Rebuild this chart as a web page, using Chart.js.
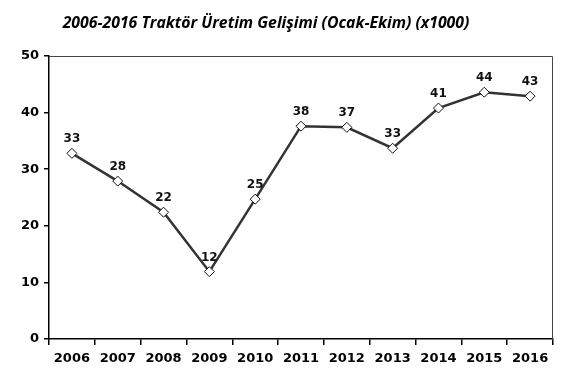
<!DOCTYPE html>
<html>
<head>
<meta charset="utf-8">
<script src="https://cdn.jsdelivr.net/npm/chart.js@4"></script>
<style>
  html, body { margin: 0; padding: 0; background: #fff; }
  #wrap { width: 569px; height: 382px; }
</style>
</head>
<body>
<div id="wrap"><canvas id="traktorChart" width="569" height="382"></canvas></div>
<script>
// Veri (x1000 adet)
const yillar = ["2006", "2007", "2008", "2009", "2010", "2011", "2012", "2013", "2014", "2015", "2016"];
const uretim = [32.8, 27.9, 22.4, 11.9, 24.7, 37.6, 37.4, 33.7, 40.8, 43.6, 42.9];
const etiketler = ["33", "28", "22", "12", "25", "38", "37", "33", "41", "44", "43"];
const yTicks = [0, 10, 20, 30, 40, 50];
const baslik = "2006-2016 Traktör Üretim Gelişimi (Ocak-Ekim) (x1000)";

const fontAna = "'DejaVu Sans', Verdana, sans-serif";

// Başlık, nokta üstü etiketler ve çerçeve
const etiketPlugin = {
	id: "etiketPlugin",
	afterDatasetsDraw(chart) {
		const ctx = chart.ctx;
		const area = chart.chartArea;
		ctx.save();
		// çerçeve (üst ve sağ)
		ctx.strokeStyle = "#444";
		ctx.lineWidth = 1;
		ctx.beginPath();
		ctx.moveTo(area.left, area.top + 0.5);
		ctx.lineTo(area.right - 0.5, area.top + 0.5);
		ctx.lineTo(area.right - 0.5, area.bottom);
		ctx.stroke();

		// başlık
		ctx.font = "italic bold 15.8px 'Open Sans', sans-serif";
		ctx.fillStyle = "#000";
		ctx.textAlign = "center";
		ctx.textBaseline = "alphabetic";
		ctx.fillText(baslik, 266, 28);

		const meta = chart.getDatasetMeta(0);
		ctx.font = "bold 12px " + fontAna;
		ctx.fillStyle = "#111";
		ctx.textBaseline = "middle";
		meta.data.forEach((pt, i) => {
			ctx.fillText(etiketler[i], pt.x, pt.y - 14);
		});
		ctx.restore();
	},
};

new Chart(document.getElementById("traktorChart"), {
	type: "line",
	data: {
		labels: yillar,
		datasets: [
			{
				data: uretim,
				borderColor: "#333",
				borderWidth: 2.5,
				pointStyle: "rectRot",
				pointRadius: 5,
				pointBackgroundColor: "#fff",
				pointBorderColor: "#111",
				pointBorderWidth: 1,
				tension: 0,
			},
		],
	},
	options: {
		responsive: false,
		animation: false,
		layout: { padding: { left: 0, right: 16, top: 56, bottom: 0 } },
		plugins: {
			legend: { display: false },
			tooltip: { enabled: false },
			title: { display: false },
		},
		scales: {
			x: {
				offset: true,
				grid: { display: true, offset: true, drawOnChartArea: false, tickLength: 6, color: "#000", lineWidth: 1.5 },
				border: { display: true, color: "#000", width: 1.5 },
				ticks: { color: "#000", font: { family: fontAna, size: 13, weight: "bold" }, padding: 6, maxRotation: 0, autoSkip: false },
				afterFit(scale) { scale.height = 43; },
			},
			y: {
				min: 0,
				max: 50,
				afterBuildTicks(scale) { scale.ticks = yTicks.map((v) => ({ value: v })); },
				grid: { display: true, drawOnChartArea: false, tickLength: 5, color: "#000", lineWidth: 1.5 },
				border: { display: true, color: "#000", width: 1.5 },
				ticks: { color: "#000", font: { family: fontAna, size: 13, weight: "bold" }, padding: 5 },
				afterFit(scale) { scale.width = 49; },
			},
		},
	},
	plugins: [etiketPlugin],
});
</script>
</body>
</html>
